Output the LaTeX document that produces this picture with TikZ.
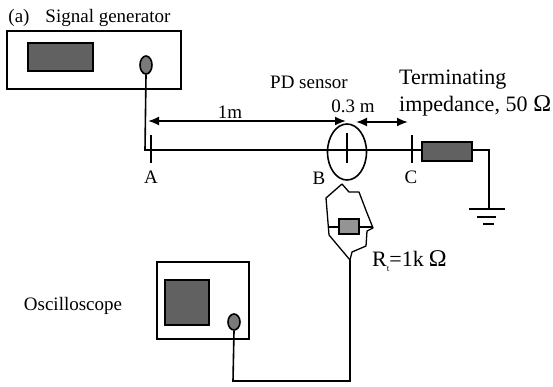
\documentclass[tikz,border=0pt]{standalone}
\usepackage{fontspec}
\setmainfont{Liberation Serif}
\usetikzlibrary{arrows.meta,shapes.geometric}
\begin{document}
\begin{tikzpicture}[
    x=1pt, y=-1pt,
    % Define styles for the elements
    line_style/.style={draw=black, line width=1.6pt},
    panel/.style={draw=black, line width=1.8pt, fill=white},
    screen/.style={draw=black, line width=1.8pt, fill=black!62},
    knob/.style={draw=black, line width=1.6pt, fill=black!52},
    dim_style/.style={draw=black, line width=1.8pt, {Latex[length=11pt,width=9pt]}-{Latex[length=11pt,width=9pt]}},
    text_style/.style={font=\fontsize{19}{21}\selectfont, inner sep=0pt}
  ]
  \useasboundingbox (0,0) rectangle (553,386);

  % --- Step 1: Signal generator ---
  \draw[panel] (7,31) rectangle (181,89);
  \draw[screen] (28,43) rectangle (93,71);
  \node (gen_knob) at (146,65) [knob, ellipse, minimum width=12pt, minimum height=18pt, inner sep=0pt] {};
  \node (tag) at (19,18) [text_style] {(a)};
  \node (gen_label) at (108,18) [text_style] {Signal generator};

  % --- Step 2: Main line and its terminating resistor ---
  \coordinate (corner_a) at (145,150);
  \node (term) at (447,151.5) [draw=black, line width=1.8pt, fill=black!62, minimum width=50pt, minimum height=19pt, inner sep=0pt] {};
  \draw[line_style] (gen_knob.south) -- (corner_a) -- (term.west |- corner_a);

  % Ticks at A and C, sensor ellipse at B
  \coordinate (tick_a_top) at (151,135);
  \coordinate (tick_a_bot) at (151,163);
  \coordinate (tick_c_top) at (412,135);
  \coordinate (tick_c_bot) at (412,163);
  \draw[line_style] (tick_a_top) -- (tick_a_bot);
  \draw[line_style] (tick_c_top) -- (tick_c_bot);
  \node (sensor) at (347,152) [ellipse, draw=black, line width=1.6pt, minimum width=39pt, minimum height=56pt, inner sep=0pt] {};
  \coordinate (core_top) at (347,133);
  \coordinate (core_bot) at (347,163);
  \draw[line_style] (core_top) -- (core_bot);
  \node (a_label) at (151,177) [text_style] {A};
  \node (b_label) at (319,178) [text_style] {B};
  \node (c_label) at (411,177) [text_style] {C};

  % --- Step 3: Ground ---
  \coordinate (gnd_turn) at (489,150);
  \coordinate (gnd) at (489,209);
  \coordinate (gnd_l1) at (469,209);
  \coordinate (gnd_r1) at (505,209);
  \coordinate (gnd_l2) at (477,217);
  \coordinate (gnd_r2) at (496,217);
  \coordinate (gnd_l3) at (483,224);
  \coordinate (gnd_r3) at (494,224);
  \draw[line_style] (term.east |- gnd_turn) -- (gnd_turn) -- (gnd);
  \draw[line_style] (gnd_l1) -- (gnd_r1);
  \draw[line_style] (gnd_l2) -- (gnd_r2);
  \draw[line_style] (gnd_l3) -- (gnd_r3);

  % --- Step 4: Distance arrows ---
  \coordinate (dim_a) at (148,121);
  \coordinate (dim_b) at (346,121);
  \coordinate (dim_c) at (356,122);
  \coordinate (dim_d) at (408,122);
  \draw[dim_style] (dim_a) -- (dim_b);
  \draw[dim_style] (dim_c) -- (dim_d);
  \node (len_ab) at (230,112) [text_style] {1m};
  \node (len_bc) at (353,106) [text_style] {0.3 m};
  \node (sensor_label) at (309,82) [text_style] {PD sensor};
  \node (term_label) at (399,80) [text_style, anchor=west, font=\fontsize{22}{24}\selectfont] {Terminating};
  \node (imp_label) at (399,106) [text_style, anchor=west, font=\fontsize{22}{24}\selectfont] {impedance, 50\kern6pt\fontsize{24}{24}\selectfont Ω};

  % --- Step 5: Sensor loop with measuring resistor ---
  \coordinate (loop_end) at (350,260);
  \draw[line_style, line width=1.3pt, line join=round] (342,184) -- (349,192) -- (359,192) -- (367,213) -- (373,228) -- (367,231) -- (366,246) -- (352,252) -- (loop_end) -- (329,235) -- (326,198) -- cycle;
  \node (rt) at (349,226.5) [draw=black, line width=1.8pt, fill=black!42, minimum width=20pt, minimum height=15pt, inner sep=0pt] {};
  \coordinate (lead_l) at (328,227);
  \coordinate (lead_r) at (373,227);
  \draw[line_style] (lead_l) -- (rt.west |- lead_l);
  \draw[line_style] (rt.east |- lead_r) -- (lead_r);
  \node (rt_label) at (372,261) [text_style, anchor=west, font=\fontsize{22}{24}\selectfont] {R\raisebox{-0.5ex}{\fontsize{9}{9}\selectfont t}=1k\kern5pt\fontsize{24}{24}\selectfont Ω};

  % --- Step 6: Oscilloscope ---
  \draw[panel] (157,262) rectangle (249,339);
  \draw[screen] (165,280) rectangle (209,325);
  \node (osc_knob) at (234,322) [knob, ellipse, minimum width=12pt, minimum height=16pt, inner sep=0pt] {};
  \node (osc_label) at (73,306) [text_style] {Oscilloscope};
  \coordinate (osc_low) at (233,381);
  \coordinate (loop_low) at (350,381);
  \draw[line_style] (loop_end) -- (loop_low) -- (osc_low) -- (osc_knob.south);
\end{tikzpicture}
\end{document}
